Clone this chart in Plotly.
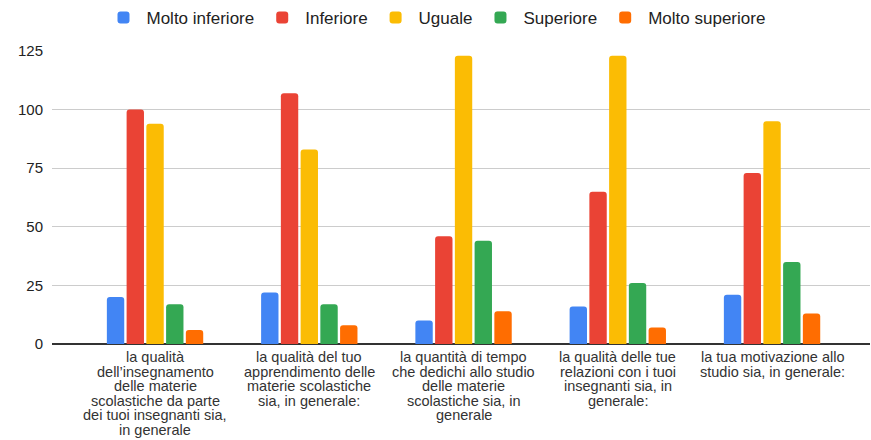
import plotly.graph_objects as go

categories = [
    "la qualità<br>dell’insegnamento<br>delle materie<br>scolastiche da parte<br>dei tuoi insegnanti sia,<br>in generale",
    "la qualità del tuo<br>apprendimento delle<br>materie scolastiche<br>sia, in generale:",
    "la quantità di tempo<br>che dedichi allo studio<br>delle materie<br>scolastiche sia, in<br>generale",
    "la qualità delle tue<br>relazioni con i tuoi<br>insegnanti sia, in<br>generale:",
    "la tua motivazione allo<br>studio sia, in generale:",
]
series_names = ["Molto inferiore", "Inferiore", "Uguale", "Superiore", "Molto superiore"]
molto_inferiore = [20, 22, 10, 16, 21]
inferiore = [100, 107, 46, 65, 73]
uguale = [94, 83, 123, 123, 95]
superiore = [17, 17, 44, 26, 35]
molto_superiore = [6, 8, 14, 7, 13]
series_values = [molto_inferiore, inferiore, uguale, superiore, molto_superiore]
colors = ["#4285F4", "#EA4335", "#FBBC04", "#34A853", "#FF6D01"]
y_ticks = [0, 25, 50, 75, 100, 125]

x_idx = list(range(len(categories)))

fig = go.Figure()
for name, vals, c in zip(series_names, series_values, colors):
    fig.add_trace(go.Bar(x=x_idx, y=vals, name=name, marker_color=c,
                         marker_line_width=0))

font = "Liberation Sans, Arial, sans-serif"

# category labels, one annotation per wrapped line (tight line spacing)
annotations = []
for i, label in enumerate(categories):
    for j, line in enumerate(label.split("<br>")):
        annotations.append(dict(
            x=i, y=0, xref="x", yref="y", text=line, showarrow=False,
            xanchor="center", yanchor="middle", yshift=-13 - j * 14.6,
            font=dict(family=font, size=14.5, color="#333333")))

fig.update_layout(
    width=871, height=440,
    margin=dict(l=52, r=1, t=51, b=96, autoexpand=False),
    paper_bgcolor="white", plot_bgcolor="white",
    barmode="group", bargap=0.36, bargroupgap=0.12,
    barcornerradius=3,
    font=dict(family=font, size=13, color="#222222"),
    annotations=annotations,
    legend=dict(orientation="h", x=0.5, xanchor="center", xref="container",
                y=1.0, yref="container", yanchor="top",
                font=dict(family=font, size=17, color="#222222"),
                itemsizing="constant", traceorder="normal",
                itemwidth=36),
    xaxis=dict(tickvals=x_idx, showticklabels=False,
               range=[-0.668, 4.635], showgrid=False, ticks="",
               showline=False, zeroline=False, fixedrange=True),
    yaxis=dict(range=[0, 125], tickvals=y_ticks, showgrid=True,
               gridcolor="#cccccc", gridwidth=1, zeroline=True,
               zerolinecolor="#333333", zerolinewidth=1.5,
               tickfont=dict(family=font, size=15, color="#222222"),
               ticks="", ticklabelstandoff=8, fixedrange=True),
)

fig.write_html("out.html", config={"displayModeBar": False},
               post_script="document.body.style.margin='0';")
